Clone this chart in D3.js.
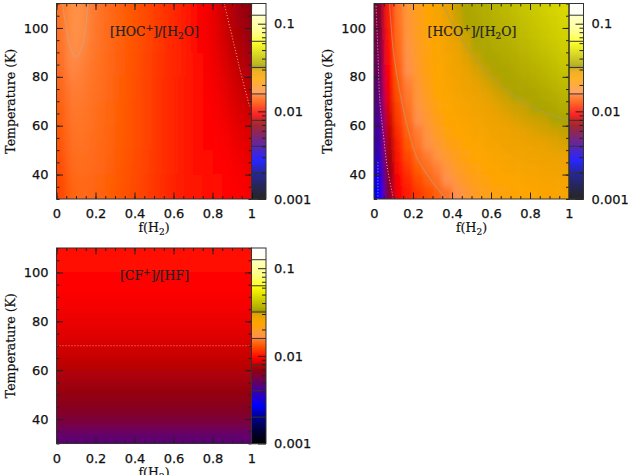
<!DOCTYPE html>
<html>
<head>
<meta charset="utf-8">
<script src="https://cdn.jsdelivr.net/npm/d3@7"></script>
<style>
html, body { margin: 0; padding: 0; background: #fff; overflow: hidden; }
svg { display: block; }
</style>
</head>
<body>
<div id="chart"></div>
<script>
// f(H2) bin centres, temperature bin centres (K)
const f_bins = [.025, .075, .125, .175, .225, .275, .325, .375, .425, .475, .525, .575, .625, .675, .725, .775, .825, .875, .925, .975];
const t_bins_fine = [107.5, 102.5, 97.5, 92.5, 87.5, 82.5, 77.5, 72.5, 67.5, 62.5, 57.5, 52.5, 47.5, 42.5, 37.5, 32.5];
const t_bins_coarse = [105, 95, 85, 75, 65, 55, 45, 35];

// [HOC+]/[H2O], one row per coarse temperature bin
const hoc_ratio = [
  [.0146, .0168, .0166, .0156, .0148, .0142, .0137, .0132, .0127, .0122, .0117, .0112, .0107, .0101, .0096, .0092, .0086, .0079, .0073, .0068],
  [.0144, .0164, .0164, .0154, .0147, .0141, .0136, .0131, .0126, .0121, .0116, .0111, .0106, .0101, .0096, .0092, .0087, .0081, .0076, .0071],
  [.0140, .0160, .0158, .0152, .0146, .0140, .0135, .0130, .0125, .0120, .0115, .0110, .0106, .0101, .0097, .0093, .0089, .0084, .0079, .0074],
  [.0136, .0156, .0155, .0150, .0145, .0140, .0134, .0130, .0124, .0120, .0114, .0110, .0105, .0101, .0097, .0094, .0091, .0087, .0083, .0078],
  [.0132, .0152, .0152, .0148, .0143, .0139, .0134, .0129, .0124, .0119, .0114, .0110, .0105, .0101, .0098, .0095, .0093, .0089, .0086, .0082],
  [.0128, .0148, .0149, .0146, .0142, .0138, .0133, .0129, .0124, .0119, .0114, .0110, .0105, .0102, .0099, .0096, .0094, .0092, .0089, .0086],
  [.0124, .0144, .0146, .0144, .0140, .0136, .0132, .0128, .0123, .0118, .0114, .0110, .0105, .0102, .0100, .0098, .0096, .0094, .0092, .0089],
  [.0120, .0139, .0142, .0140, .0137, .0134, .0130, .0126, .0122, .0117, .0113, .0109, .0105, .0103, .0101, .0099, .0098, .0096, .0095, .0092]
];

// [HCO+]/[H2O], one row per fine temperature bin
const hco_ratio = [
  [.0060, .0105, .0150, .0180, .0205, .0230, .0255, .0285, .0312, .0335, .0345, .0355, .0370, .0380, .0395, .0410, .0425, .0440, .0455, .0470],
  [.0058, .0105, .0148, .0178, .0205, .0228, .0250, .0275, .0305, .0335, .0340, .0350, .0362, .0372, .0385, .0400, .0415, .0430, .0445, .0460],
  [.0056, .0102, .0146, .0175, .0202, .0225, .0245, .0268, .0295, .0312, .0335, .0345, .0355, .0365, .0375, .0390, .0405, .0420, .0435, .0450],
  [.0054, .0100, .0143, .0170, .0198, .0222, .0240, .0262, .0285, .0305, .0335, .0340, .0348, .0355, .0365, .0378, .0390, .0405, .0420, .0435],
  [.0052, .0098, .0140, .0166, .0195, .0218, .0238, .0255, .0275, .0295, .0312, .0335, .0340, .0348, .0355, .0365, .0378, .0390, .0405, .0420],
  [.0050, .0095, .0136, .0162, .0190, .0215, .0235, .0250, .0268, .0285, .0300, .0315, .0335, .0338, .0346, .0355, .0365, .0375, .0390, .0405],
  [.0048, .0092, .0132, .0158, .0185, .0212, .0232, .0245, .0260, .0275, .0290, .0302, .0315, .0335, .0337, .0342, .0352, .0362, .0375, .0388],
  [.0046, .0090, .0128, .0153, .0178, .0205, .0228, .0240, .0252, .0265, .0278, .0290, .0302, .0312, .0335, .0336, .0338, .0348, .0358, .0370],
  [.0044, .0086, .0122, .0148, .0170, .0195, .0220, .0235, .0245, .0255, .0268, .0278, .0290, .0300, .0308, .0315, .0335, .0336, .0344, .0355],
  [.0042, .0082, .0118, .0143, .0162, .0185, .0210, .0228, .0238, .0248, .0258, .0268, .0278, .0288, .0296, .0304, .0310, .0315, .0335, .0336],
  [.0040, .0078, .0112, .0138, .0156, .0175, .0198, .0220, .0232, .0240, .0250, .0258, .0268, .0276, .0284, .0290, .0296, .0302, .0308, .0315],
  [.0038, .0074, .0106, .0132, .0150, .0165, .0185, .0208, .0222, .0232, .0240, .0250, .0258, .0265, .0272, .0278, .0284, .0288, .0294, .0300],
  [.0036, .0070, .0102, .0124, .0142, .0155, .0172, .0192, .0210, .0222, .0232, .0240, .0248, .0254, .0260, .0266, .0270, .0275, .0280, .0285],
  [.0033, .0066, .0098, .0116, .0134, .0146, .0158, .0175, .0195, .0210, .0222, .0230, .0238, .0244, .0250, .0254, .0258, .0262, .0266, .0270],
  [.0030, .0062, .0094, .0108, .0124, .0136, .0148, .0160, .0178, .0196, .0212, .0222, .0228, .0234, .0238, .0242, .0246, .0250, .0254, .0258],
  [.0028, .0060, .0092, .0104, .0116, .0126, .0136, .0148, .0162, .0180, .0200, .0214, .0220, .0225, .0230, .0234, .0238, .0242, .0246, .0250]
];

// [CF+]/[HF] depends on temperature only
const cf_ratio = [.0098, .0097, .0096, .0094, .0092, .0090, .0088, .0085, .0082, .0078, .0074, .0070, .0067, .0062, .0056, .0047];

// colour table: ratio at each stop, and colour
const cmap_ratios = [.001, .00144, .0020, .00276, .0040, .0053, .0068, .0079, .0094, .0132, .0158, .0159, .0233, .0287, .0315, .0317, .0335, .0427, .055, .0630, .0813, .125, .126, .17];
const cmap_colors = ['#000000', '#000040', '#000090', '#0000ff', '#4000a0', '#700050', '#900010', '#c00000', '#ff0000', '#ff5a00', '#ff8038', '#ff9050', '#ffa500', '#eaa200', '#c4a200', '#8c8c00', '#aca400', '#ccca00', '#f0f000', '#ffff20', '#ffff80', '#ffffc0', '#fffff0', '#ffffff'];
const band_edges = [.002, .004, .0079, .0158, .0316, .063, .125];
const bar_major = [.001, .01, .1];
const bar_minor = [.002, .003, .004, .005, .006, .007, .008, .009, .02, .03, .04, .05, .06, .07, .08, .09];

// contours, [f, T]
const hoc_solid = [[.03, 110], [.05, 100], [.07, 92], [.10, 88], [.13, 92], [.15, 100], [.16, 110]];
const hoc_dotted = [[.86, 110], [.89, 100], [.92, 90], [.95, 80], [.99, 68]];
const hco_solid_a = [[.08, 110], [.10, 90], [.13, 75], [.17, 60], [.22, 47], [.30, 37], [.37, 30]];
const hco_solid_b = [[.35, 110], [.45, 95], [.60, 80], [.80, 68], [1, 62]];
const hco_dotted = [[.01, 110], [.02, 90], [.03, 70], [.05, 55], [.07, 42], [.10, 30]];
const hco_dotted_b = [[.02, 45], [.02, 30]];
const cf_dotted = [[0, 70], [1, 70]];

const f_ticks = [0, .2, .4, .6, .8, 1];
const f_minor = d3.range(0, 1.001, .05);
const t_ticks = [40, 60, 80, 100];
const t_minor = d3.range(30, 110.1, 5);

const plot_w = 195, plot_h = 195.5, bar_w = 14.5;

const colour = d3.scaleLog().domain(cmap_ratios).range(cmap_colors).interpolate(d3.interpolateRgb).clamp(true);

const svg = d3.select('#chart').append('svg').attr('width', 628).attr('height', 475);
const defs = svg.append('defs');

function add_blur(id, dev) {
    defs.append('filter').attr('id', id)
        .attr('filterUnits', 'userSpaceOnUse')
        .attr('x', -60).attr('y', -60).attr('width', 340).attr('height', 340)
        .append('feGaussianBlur').attr('stdDeviation', dev);
}
add_blur('blur-wide', '6 12');
add_blur('blur-fine', '2.8 3.5');
add_blur('blur-rows', '0 6');

function tick_axis(axis_fn, scale, values, size, labels, pad) {
    return axis_fn(scale)
        .tickValues(values)
        .tickSizeInner(-size)
        .tickSizeOuter(0)
        .tickPadding(pad || 9)
        .tickFormat(labels ? d3.format('~g') : '');
}

function style_axis(g) {
    g.select('.domain').remove();
    g.selectAll('line').attr('stroke', '#222').attr('stroke-width', 1);
    g.selectAll('text')
        .attr('fill', '#111')
        .attr('stroke', '#111')
        .attr('stroke-width', .25)
        .attr('font-family', '"DejaVu Sans", sans-serif')
        .attr('font-size', 13);
}

function draw_panel(p) {
    const g = svg.append('g').attr('transform', `translate(${p.left},${p.top})`);
    const x = d3.scaleLinear().domain([0, 1]).range([0, plot_w]);
    const y = d3.scaleLinear().domain([30, 110]).range([plot_h, 0]);
    const dt = Math.abs(p.t_bins[1] - p.t_bins[0]);
    const df = p.f_bins.length > 1 ? p.f_bins[1] - p.f_bins[0] : 1;
    const bleed = 40;

    const clip_id = 'clip-' + p.name;
    defs.append('clipPath').attr('id', clip_id)
        .append('rect').attr('width', plot_w).attr('height', plot_h);

    const cells = [];
    p.rows.forEach((row, i) => row.forEach((v, j) => {
        cells.push({ i, j, f: p.f_bins[j], t: p.t_bins[i], v });
    }));

    // edge cells run past the frame so the blur does not fade at the border
    g.append('g').attr('clip-path', `url(#${clip_id})`)
        .append('g').attr('filter', `url(#${p.blur})`)
        .selectAll('rect').data(cells).join('rect')
        .attr('x', d => x(d.f - df / 2) - (d.j === 0 ? bleed : 0))
        .attr('y', d => y(d.t + dt / 2) - (d.i === 0 ? bleed : 0))
        .attr('width', d => x(df) + .5 + (d.j === 0 || d.j === p.f_bins.length - 1 ? bleed : 0))
        .attr('height', d => y(110 - dt) + .5 + (d.i === 0 || d.i === p.t_bins.length - 1 ? bleed : 0))
        .attr('fill', d => colour(d.v));

    const line = d3.line().x(d => x(d[0])).y(d => y(d[1])).curve(d3.curveCatmullRom);
    p.contours.forEach(c => {
        g.append('path').datum(c.points)
            .attr('d', line)
            .attr('fill', 'none')
            .attr('stroke', c.stroke)
            .attr('stroke-width', c.dash ? 1 : 1.2)
            .attr('stroke-dasharray', c.dash || null)
            .attr('opacity', c.opacity || 1);
    });

    // ticks on all four sides
    g.append('g').attr('transform', `translate(0,${plot_h})`)
        .call(tick_axis(d3.axisBottom, x, f_minor, 3, false)).call(style_axis);
    g.append('g').attr('transform', `translate(0,${plot_h})`)
        .call(tick_axis(d3.axisBottom, x, f_ticks, 6.5, true, 10)).call(style_axis);
    g.append('g').call(tick_axis(d3.axisTop, x, f_minor, 3, false)).call(style_axis);
    g.append('g').call(tick_axis(d3.axisTop, x, f_ticks, 6.5, false)).call(style_axis);
    g.append('g').call(tick_axis(d3.axisLeft, y, t_minor, 3, false)).call(style_axis);
    g.append('g').call(tick_axis(d3.axisLeft, y, t_ticks, 6.5, true, 8)).call(style_axis);
    g.append('g').attr('transform', `translate(${plot_w},0)`)
        .call(tick_axis(d3.axisRight, y, t_minor, 3, false)).call(style_axis);
    g.append('g').attr('transform', `translate(${plot_w},0)`)
        .call(tick_axis(d3.axisRight, y, t_ticks, 6.5, false)).call(style_axis);

    // colour bar
    const bar_y = d3.scaleLog().domain([.001, .17]).range([plot_h, 0]);
    const bar = g.append('g').attr('transform', `translate(${plot_w},0)`);
    const steps = d3.range(0, Math.ceil(plot_h));
    bar.selectAll('rect.step').data(steps).join('rect')
        .attr('class', 'step')
        .attr('x', 0).attr('y', d => d)
        .attr('width', bar_w).attr('height', 1.2)
        .attr('fill', d => colour(bar_y.invert(d + .5)));
    bar.selectAll('line.band').data(band_edges).join('line')
        .attr('class', 'band')
        .attr('x1', 0).attr('x2', bar_w)
        .attr('y1', d => bar_y(d)).attr('y2', d => bar_y(d))
        .attr('stroke', '#333').attr('stroke-width', 1);
    bar.append('g').attr('transform', `translate(${bar_w},0)`)
        .call(d3.axisRight(bar_y).tickValues(bar_minor).tickSizeInner(-4).tickSizeOuter(0).tickFormat(''))
        .call(style_axis);
    bar.append('g').attr('transform', `translate(${bar_w},0)`)
        .call(d3.axisRight(bar_y).tickValues(bar_major).tickSizeInner(-8).tickSizeOuter(0).tickPadding(8).tickFormat(d3.format('~g')))
        .call(style_axis);
    bar.append('rect')
        .attr('width', bar_w).attr('height', plot_h)
        .attr('fill', 'none').attr('stroke', '#333').attr('stroke-width', 1);

    // frame
    g.append('rect')
        .attr('width', plot_w).attr('height', plot_h)
        .attr('fill', 'none').attr('stroke', '#333').attr('stroke-width', 1);

    // panel title, dy moves sub and superscripts and then moves back
    const title = g.append('text')
        .attr('x', p.title_x).attr('y', 32)
        .attr('text-anchor', 'middle')
        .attr('font-family', '"DejaVu Serif", serif')
        .attr('font-size', 12.5)
        .attr('fill', '#222')
        .attr('stroke', '#222')
        .attr('stroke-width', .2);
    let shift = 0;
    p.title.forEach(part => {
        const next = part[1] === 'sup' ? -5 : part[1] === 'sub' ? 3 : 0;
        title.append('tspan')
            .attr('dy', next - shift)
            .attr('font-size', part[1] ? 9 : null)
            .text(part[0]);
        shift = next;
    });

    // axis labels
    const x_label = g.append('text')
        .attr('x', plot_w / 2).attr('y', plot_h + 33)
        .attr('text-anchor', 'middle')
        .attr('font-family', '"DejaVu Serif", serif')
        .attr('font-size', 12.5)
        .attr('fill', '#111')
        .attr('stroke', '#111')
        .attr('stroke-width', .2);
    x_label.append('tspan').text('f(H');
    x_label.append('tspan').attr('dy', 3).attr('font-size', 9).text('2');
    x_label.append('tspan').attr('dy', -3).text(')');

    g.append('text')
        .attr('transform', `translate(-42,${plot_h / 2}) rotate(-90)`)
        .attr('text-anchor', 'middle')
        .attr('font-family', '"DejaVu Serif", serif')
        .attr('font-size', 12.5)
        .attr('fill', '#111')
        .attr('stroke', '#111')
        .attr('stroke-width', .2)
        .text('Temperature (K)');
}

draw_panel({
    name: 'hoc', left: 56.5, top: 3.5, rows: hoc_ratio, f_bins: f_bins, t_bins: t_bins_coarse, blur: 'blur-wide',
    title_x: 98, title: [['[HOC'], ['+', 'sup'], [']/[H'], ['2', 'sub'], ['O]']],
    contours: [
        { points: hoc_solid, stroke: '#c8a890', opacity: .55 },
        { points: hoc_dotted, stroke: '#f0b0a0', dash: '1 2' }
    ]
});

draw_panel({
    name: 'hco', left: 374, top: 3.5, rows: hco_ratio, f_bins: f_bins, t_bins: t_bins_fine, blur: 'blur-fine',
    title_x: 98, title: [['[HCO'], ['+', 'sup'], [']/[H'], ['2', 'sub'], ['O]']],
    contours: [
        { points: hco_solid_a, stroke: '#c0a080', opacity: .55 },
        { points: hco_solid_b, stroke: '#a8a060', opacity: .55 },
        { points: hco_dotted, stroke: '#f0b0a0', dash: '1 2' },
        { points: hco_dotted_b, stroke: '#c0a0ff', dash: '1 2' }
    ]
});

draw_panel({
    name: 'cf', left: 56.5, top: 248, rows: cf_ratio.map(v => [v]), f_bins: [.5], t_bins: t_bins_fine, blur: 'blur-rows',
    title_x: 98, title: [['[CF'], ['+', 'sup'], [']/[HF]']],
    contours: [
        { points: cf_dotted, stroke: '#ff9080', dash: '1 2' }
    ]
});
</script>
</body>
</html>
